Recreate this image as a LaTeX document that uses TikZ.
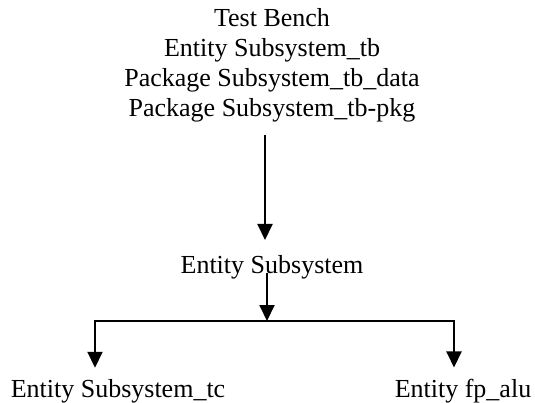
\documentclass[tikz,border=0pt]{standalone}
\usepackage{fontspec}
\setmainfont{Liberation Serif}
\usetikzlibrary{arrows.meta, positioning}

\begin{document}
\begin{tikzpicture}[x=1pt, y=-1pt,
  >={Triangle[width=15pt,length=16pt]},
  entity/.style={font=\fontsize{26}{30}\selectfont, inner sep=0pt, align=center},
  link/.style={line width=2pt}
]
\useasboundingbox (0,0) rectangle (535,403);

% test bench and its packages
\node[entity, anchor=base] (tb) at (272,117)
  {Test Bench\\Entity Subsystem\_tb\\Package Subsystem\_tb\_data\\Package Subsystem\_tb-pkg};

% subsystem and its parts
\node[entity, anchor=base] (sub) at (272,273) {Entity Subsystem};
\node[entity, anchor=base] (tc) at (118,397) {Entity Subsystem\_tc};
\node[entity, anchor=base] (alu) at (463,397) {Entity fp\_alu};

\coordinate (drop) at (265,240);
\coordinate (split) at (267,321);
\coordinate (left) at (95,321);
\coordinate (right) at (454,321);

\draw[link, ->, shorten <=12pt] (tb.south -| drop) -- (drop);
\draw[link, ->] (split |- sub.base) -- (split);
\draw[link, line cap=rect] (left) -- (right);
\draw[link, ->, shorten >=11pt] (left) -- (left |- tc.north);
\draw[link, ->, shorten >=11pt] (right) -- (right |- alu.north);

\end{tikzpicture}
\end{document}
